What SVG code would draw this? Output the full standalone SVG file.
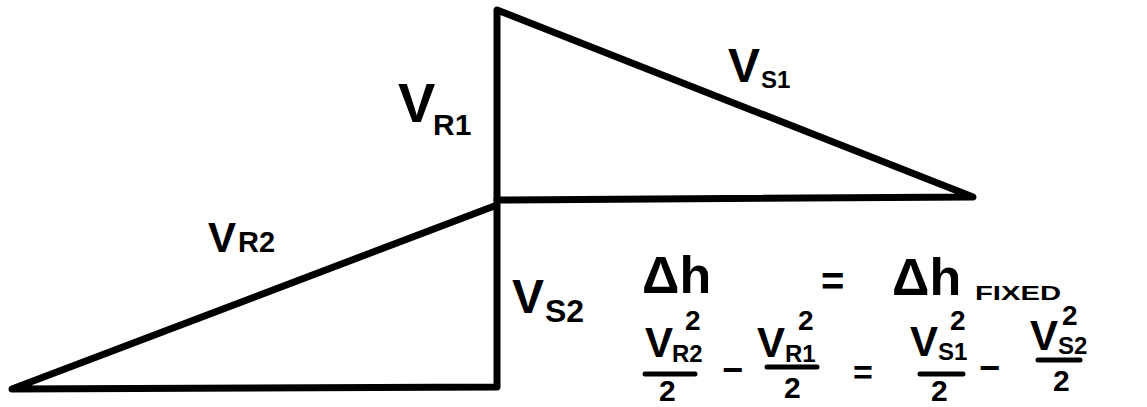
<svg xmlns="http://www.w3.org/2000/svg" width="1147" height="407" viewBox="0 0 1147 407">
<style>
.ln{fill:none;stroke:#000;stroke-width:7;stroke-linejoin:round;stroke-linecap:round}
.bar{stroke:#000;stroke-width:5;stroke-linecap:round}
text{font-family:"Liberation Sans",Arial,sans-serif;font-weight:bold;fill:#000}
</style>
<rect width="1147" height="407" fill="#fff"/>
<g id="upper-triangle">
<path class="ln" d="M497,10 L497,200 L973,197 Z"/>
</g>
<g id="lower-triangle">
<path class="ln" d="M497,200 L497,387 L12,389 L497,205"/>
</g>
<g id="connectors"></g>
<g id="label-vr1">
<text x="398" y="122" font-size="56">V</text>
<text x="433" y="135" font-size="30">R1</text>
</g>
<g id="label-vs1">
<text x="728" y="82" font-size="48">V</text>
<text x="761" y="88" font-size="24">S1</text>
</g>
<g id="label-vr2">
<text x="208" y="252" font-size="42">V</text>
<text x="238" y="252" font-size="29">R2</text>
</g>
<g id="label-vs2">
<text x="512" y="313" font-size="48">V</text>
<text x="545" y="322" font-size="32">S2</text>
</g>
<g id="equation-1">
<text x="642" y="293" font-size="52">Δh</text>
<text x="821" y="295" font-size="40">=</text>
<text x="892" y="295" font-size="52">Δh</text>
<text x="975" y="300" font-size="20" textLength="86" lengthAdjust="spacingAndGlyphs">FIXED</text>
</g>
<g id="equation-2">
<text x="645" y="357" font-size="42">V</text>
<text x="672" y="362" font-size="24">R2</text>
<text x="685" y="330" font-size="28">2</text>
<line class="bar" x1="645" y1="374" x2="695" y2="374"/>
<text x="659" y="401" font-size="30">2</text>
<text x="722" y="382" font-size="36">−</text>
<text x="757" y="357" font-size="42">V</text>
<text x="785" y="362" font-size="24">R1</text>
<text x="798" y="330" font-size="28">2</text>
<line class="bar" x1="767" y1="367" x2="817" y2="367"/>
<text x="784" y="398" font-size="30">2</text>
<text x="853" y="384" font-size="34">=</text>
<text x="910" y="356" font-size="42">V</text>
<text x="938" y="360" font-size="24">S1</text>
<text x="950" y="330" font-size="28">2</text>
<line class="bar" x1="920" y1="374" x2="963" y2="374"/>
<text x="931" y="401" font-size="30">2</text>
<text x="979" y="380" font-size="36">−</text>
<text x="1030" y="350" font-size="42">V</text>
<text x="1058" y="354" font-size="24">S2</text>
<text x="1062" y="325" font-size="28">2</text>
<line class="bar" x1="1038" y1="360" x2="1080" y2="360"/>
<text x="1053" y="391" font-size="30">2</text>
</g>
</svg>
